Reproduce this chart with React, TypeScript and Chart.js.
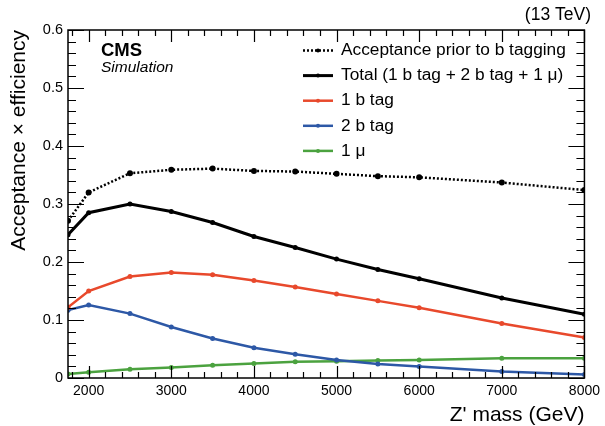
import React, { useEffect, useRef } from 'react';
import { Chart, registerables } from 'chart.js';

Chart.register(...registerables);

const massPoints = [1750, 2000, 2500, 3000, 3500, 4000, 4500, 5000, 5500, 6000, 7000, 8000];
const acceptancePrior = [0.271, 0.32, 0.353, 0.359, 0.361, 0.357, 0.356, 0.352, 0.348, 0.346, 0.337, 0.324];
const totalEff = [0.247, 0.285, 0.3, 0.287, 0.268, 0.244, 0.225, 0.205, 0.187, 0.171, 0.138, 0.11];
const oneBTag = [0.122, 0.15, 0.175, 0.182, 0.178, 0.168, 0.157, 0.145, 0.133, 0.121, 0.094, 0.07];
const twoBTag = [0.117, 0.126, 0.111, 0.088, 0.068, 0.052, 0.041, 0.031, 0.024, 0.02, 0.011, 0.006];
const oneMu = [0.007, 0.01, 0.015, 0.018, 0.022, 0.025, 0.028, 0.029, 0.03, 0.031, 0.034, 0.034];

const seriesLabels = [
  'Acceptance prior to b tagging',
  'Total (1 b tag + 2 b tag + 1 \u03bc)',
  '1 b tag',
  '2 b tag',
  '1 \u03bc',
];
const xTickValues = [2000, 3000, 4000, 5000, 6000, 7000, 8000];
const yTickValues = [0, 0.1, 0.2, 0.3, 0.4, 0.5, 0.6];

const FONT = '"Liberation Sans", Arial, Helvetica, sans-serif';

const toPoints = (ys: number[]) => massPoints.map((x, i) => ({ x, y: ys[i] }));

const decorPlugin = {
  id: 'decor',
  afterDraw(chart: any) {
    const { ctx, chartArea: a, scales } = chart;
    const xs = scales.x;
    const ys = scales.y;
    ctx.save();
    ctx.strokeStyle = '#000';
    ctx.lineWidth = 1.2;
    // x ticks (top & bottom), inward
    for (let v = 1800; v <= 8000; v += 200) {
      const px = Math.round(xs.getPixelForValue(v)) + 0.5;
      const len = v % 1000 === 0 ? 12 : 6;
      ctx.beginPath();
      ctx.moveTo(px, a.bottom);
      ctx.lineTo(px, a.bottom - len);
      ctx.moveTo(px, a.top);
      ctx.lineTo(px, a.top + len);
      ctx.stroke();
    }
    // y ticks (left & right), inward
    for (let i = 0; i <= 30; i++) {
      const py = Math.round(ys.getPixelForValue(i * 0.02)) + 0.5;
      const len = i % 5 === 0 ? 16 : 8;
      ctx.beginPath();
      ctx.moveTo(a.left, py);
      ctx.lineTo(a.left + len, py);
      ctx.moveTo(a.right, py);
      ctx.lineTo(a.right - len, py);
      ctx.stroke();
    }
    ctx.lineWidth = 1.5;
    ctx.strokeRect(a.left, a.top, a.right - a.left, a.bottom - a.top);

    // texts
    ctx.fillStyle = '#000';
    ctx.textBaseline = 'middle';
    ctx.textAlign = 'left';
    ctx.font = `bold 18.5px ${FONT}`;
    ctx.fillText('CMS', 101, 51);
    ctx.font = `italic 15.5px ${FONT}`;
    ctx.fillText('Simulation', 101, 68);
    ctx.textAlign = 'right';
    ctx.font = `17.5px ${FONT}`;
    ctx.fillText('(13 TeV)', 591, 15);

    // legend
    ctx.textAlign = 'left';
    ctx.font = `17.3px ${FONT}`;
    chart.data.datasets.forEach((ds: any, i: number) => {
      const y = 50.5 + i * 25.1;
      ctx.save();
      ctx.strokeStyle = ds.borderColor;
      ctx.lineWidth = ds.borderWidth;
      ctx.setLineDash(ds.borderDash || []);
      ctx.beginPath();
      ctx.moveTo(303, y);
      ctx.lineTo(333, y);
      ctx.stroke();
      ctx.restore();
      ctx.fillStyle = ds.pointBackgroundColor;
      ctx.beginPath();
      ctx.arc(318, y, 2, 0, Math.PI * 2);
      ctx.fill();
      ctx.fillStyle = '#000';
      ctx.fillText(ds.label, 341, y);
    });
    ctx.restore();
  },
};

export default function App() {
  const canvasRef = useRef<HTMLCanvasElement | null>(null);

  useEffect(() => {
    const canvas = canvasRef.current;
    if (!canvas) return;
    const mk = (label: string, data: number[], color: string, width: number, dash?: number[], r = 2.5) => ({
      label,
      data: toPoints(data),
      borderColor: color,
      backgroundColor: color,
      pointBackgroundColor: color,
      pointBorderColor: color,
      pointRadius: r,
      pointBorderWidth: 0,
      borderWidth: width,
      borderDash: dash,
      tension: 0,
      fill: false,
    });
    const chart = new Chart(canvas, {
      type: 'line',
      data: {
        datasets: [
          mk(seriesLabels[0], acceptancePrior, '#000000', 2.5, [2, 2], 3),
          mk(seriesLabels[1], totalEff, '#000000', 3, undefined, 2.5),
          mk(seriesLabels[2], oneBTag, '#e8492c', 2.5),
          mk(seriesLabels[3], twoBTag, '#2d58a6', 2.5),
          mk(seriesLabels[4], oneMu, '#4ba23f', 2.5),
        ] as any,
      },
      options: {
        animation: false,
        responsive: true,
        maintainAspectRatio: false,
        layout: { padding: { top: 30, right: 16, left: 0, bottom: 0 } },
        plugins: { legend: { display: false }, tooltip: { enabled: false } },
        scales: {
          x: {
            type: 'linear',
            min: 1750,
            max: 8000,
            grid: { display: false, drawTicks: false },
            border: { display: false },
            afterBuildTicks: (s: any) => {
              s.ticks = xTickValues.map((v) => ({ value: v }));
            },
            afterFit: (s: any) => {
              s.height = 48;
            },
            ticks: {
              padding: 5,
              color: '#000',
              font: { family: FONT, size: 14 },
              maxRotation: 0,
              autoSkip: false,
              callback: (v: any) => String(v),
            },
            title: {
              display: true,
              text: "Z' mass (GeV)",
              align: 'end',
              color: '#000',
              font: { family: FONT, size: 21, lineHeight: 1 },
              padding: { top: 0, bottom: 0 },
            },
          },
          y: {
            type: 'linear',
            min: 0,
            max: 0.6,
            grid: { display: false, drawTicks: false },
            border: { display: false },
            afterBuildTicks: (s: any) => {
              s.ticks = yTickValues.map((v) => ({ value: v }));
            },
            afterFit: (s: any) => {
              s.width = 68;
            },
            ticks: {
              padding: 5,
              color: '#000',
              font: { family: FONT, size: 14.5 },
              callback: (v: any) => (v === 0 ? '0' : Number(v).toFixed(1)),
            },
            title: {
              display: true,
              text: 'Acceptance \u00d7 efficiency',
              align: 'end',
              color: '#000',
              font: { family: FONT, size: 21 },
              padding: { top: 7, bottom: 0 },
            },
          },
        },
      } as any,
      plugins: [decorPlugin],
    });
    return () => chart.destroy();
  }, []);

  return (
    <div style={{ position: 'fixed', left: 0, top: 0, width: 605, height: 426, background: '#fff' }}>
      <canvas ref={canvasRef} />
    </div>
  );
}
